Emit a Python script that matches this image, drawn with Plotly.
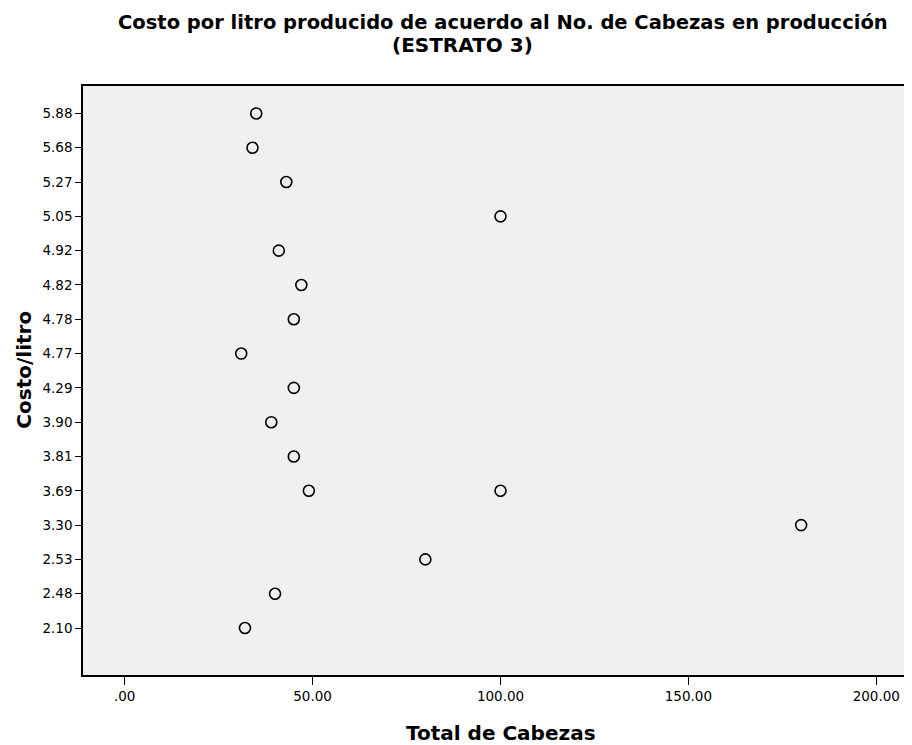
import plotly.graph_objects as go

# Data
cost_categories = ["2.10", "2.48", "2.53", "3.30", "3.69", "3.81", "3.90", "4.29",
                   "4.77", "4.78", "4.82", "4.92", "5.05", "5.27", "5.68", "5.88"]
point_cost = ["5.88", "5.68", "5.27", "5.05", "4.92", "4.82", "4.78", "4.77",
              "4.29", "3.90", "3.81", "3.69", "3.69", "3.30", "2.53", "2.48", "2.10"]
point_heads = [35, 34, 43, 100, 41, 47, 45, 31,
               45, 39, 45, 49, 100, 180, 80, 40, 32]
x_tickvals = [0, 50, 100, 150, 200]
x_ticktext = [".00", "50.00", "100.00", "150.00", "200.00"]

FONT = "DejaVu Sans, Arial, sans-serif"

fig = go.Figure()
fig.add_trace(go.Scatter(
    x=point_heads, y=point_cost, mode="markers",
    marker=dict(symbol="circle-open", size=11, color="black",
                line=dict(color="black", width=1.6)),
    showlegend=False,
))

# page has an 8px body margin; figure sized to fill the 912x745 window
W, H = 904, 737
ml, mr, mt, mb = 75, 1, 78, 70
PW, PH = W - ml - mr, H - mt - mb


def px_x(x):
    return (x - ml) / PW


def px_y(y):
    return (H - mb - y) / PH


fig.update_layout(
    width=W, height=H,
    margin=dict(l=ml, r=mr, t=mt, b=mb),
    paper_bgcolor="white",
    plot_bgcolor="#f0f0f0",
    font=dict(family=FONT, color="black", size=13.5),
    xaxis=dict(
        range=[-11.1, 208.7], tickvals=x_tickvals, ticktext=x_ticktext,
        showgrid=False, zeroline=False, showline=True, mirror=True,
        linecolor="black", linewidth=1.5, ticks="outside", ticklen=8,
        tickwidth=1.3, tickcolor="black",
        tickfont=dict(size=13.5),
    ),
    yaxis=dict(
        type="category", categoryorder="array", categoryarray=cost_categories,
        range=[-1.37, 15.8],
        showgrid=False, zeroline=False, showline=True, mirror=True,
        linecolor="black", linewidth=1.5, ticks="outside", ticklen=6,
        tickwidth=1.3, tickcolor="black",
        tickfont=dict(size=13.5),
    ),
    annotations=[
        dict(text="<b>Costo por litro producido de acuerdo al No. de Cabezas en producción</b>",
             xref="paper", yref="paper", x=px_x(496), y=px_y(14),
             xanchor="center", yanchor="middle",
             showarrow=False, font=dict(size=19.5)),
        dict(text="<b>(ESTRATO 3)</b>",
             xref="paper", yref="paper", x=px_x(455), y=px_y(37),
             xanchor="center", yanchor="middle",
             showarrow=False, font=dict(size=20)),
        dict(text="<b>Total de Cabezas</b>",
             xref="paper", yref="paper", x=px_x(494), y=px_y(725),
             xanchor="center", yanchor="middle",
             showarrow=False, font=dict(size=20)),
        dict(text="<b>Costo/litro</b>", textangle=-90,
             xref="paper", yref="paper", x=px_x(15.5), y=px_y(362),
             xanchor="center", yanchor="middle",
             showarrow=False, font=dict(size=20)),
    ],
)

fig.write_html("out.html")
